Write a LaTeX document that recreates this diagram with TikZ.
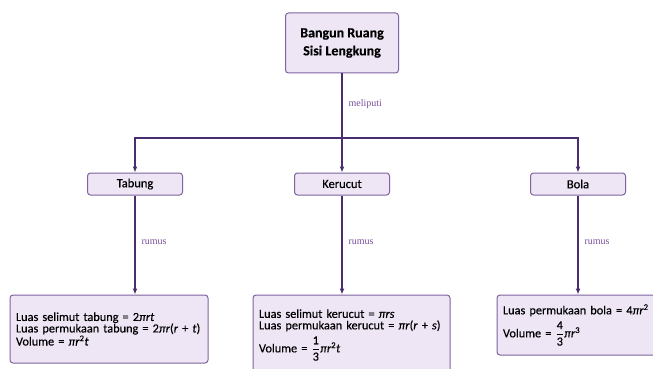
\documentclass[tikz,border=0pt]{standalone}
\usepackage{amsmath}
\usepackage{fontspec}
\setmainfont{Carlito}[FakeBold=0.35]
\newfontfamily\labelfont{Liberation Serif}
\usetikzlibrary{arrows.meta,positioning}

\definecolor{isiungu}{HTML}{EEE6F5}
\definecolor{garisungu}{HTML}{7E63A0}
\definecolor{panahungu}{HTML}{4A2D6E}
\definecolor{teksungu}{HTML}{7A4F9C}

% variabel miring
\newcommand{\vr}[1]{\textit{#1}}

\tikzset{
  kotak/.style={draw=garisungu, fill=isiungu, rounded corners=3pt, line width=1pt, inner sep=2pt},
  judul/.style={kotak, minimum width=113pt, minimum height=60pt, align=center, font=\bfseries\fontsize{14}{18}\selectfont},
  bangun/.style={kotak, minimum width=95pt, minimum height=22pt, font=\fontsize{12.5}{13}\selectfont},
  rumusbox/.style={kotak, align=left, inner xsep=6pt, font=\fontsize{12.3}{11.5}\selectfont},
  panah/.style={draw=panahungu, line width=1.2pt, -{Latex[length=6pt,width=5pt]}},
  garis/.style={draw=panahungu, line width=1.2pt},
  ket/.style={text=teksungu, font=\labelfont\fontsize{10}{11}\selectfont, right, inner sep=6pt}
}

\begin{document}
\begin{tikzpicture}[x=1pt,y=-1pt]
  \useasboundingbox (0,0) rectangle (653,369);

  % judul
  \node[judul] (bangun) at (342,43) {Bangun Ruang\\Sisi Lengkung};
  \coordinate (cabang) at (342,138);

  % tiga bangun
  \node[bangun] (tabung) at (135,184) {Tabung};
  \node[bangun] (kerucut) at (342,184) {Kerucut};
  \node[bangun] (bola) at (578,184) {Bola};

  % rumus
  \node[rumusbox, minimum width=198pt, minimum height=68pt, text width=186pt] (rtabung) at (109,329)
    {Luas selimut tabung = 2\vr{πrt}\\
     Luas permukaan tabung = 2\vr{πr}(\vr{r} + \vr{t})\\
     Volume = \vr{πr}\textsuperscript{2}\vr{t}\\[5pt]};
  \node[rumusbox, minimum width=197pt, minimum height=80pt, text width=185pt] (rkerucut) at (351.5,335)
    {Luas selimut kerucut = \vr{πrs}\\
     Luas permukaan kerucut = \vr{πr}(\vr{r} + \vr{s})\\[4pt]
     Volume = $\dfrac{\text{1}}{\text{3}}$\vr{πr}\textsuperscript{2}\vr{t}};
  \node[rumusbox, minimum width=168pt, minimum height=60pt, text width=156pt] (rbola) at (581,325)
    {Luas permukaan bola = 4\vr{πr}\textsuperscript{2}\\[4pt]
     Volume = $\dfrac{\text{4}}{\text{3}}$\vr{πr}\textsuperscript{3}};

  % penghubung
  \draw[garis] (bangun) -- node[ket, pos=0.48] {meliputi} (cabang);
  \draw[panah] (cabang) -| (tabung);
  \draw[panah] (cabang) -- (kerucut);
  \draw[panah] (cabang) -| (bola);

  \draw[panah] (tabung) -- node[ket, pos=0.47] {rumus} (tabung |- rtabung.north);
  \draw[panah] (kerucut) -- node[ket, pos=0.47] {rumus} (kerucut |- rkerucut.north);
  \draw[panah] (bola) -- node[ket, pos=0.47] {rumus} (bola |- rbola.north);
\end{tikzpicture}
\end{document}
